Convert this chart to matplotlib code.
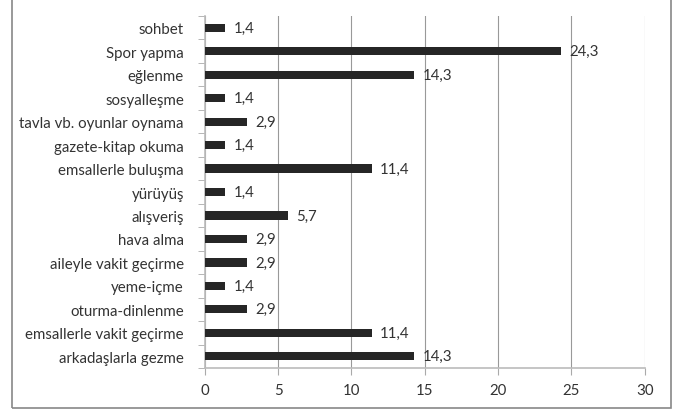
import matplotlib
matplotlib.use("Agg")
import matplotlib.pyplot as plt
from matplotlib.patches import Rectangle
import numpy as np

categories = ["arkadaşlarla gezme", "emsallerle vakit geçirme", "oturma-dinlenme",
              "yeme-içme", "aileyle vakit geçirme", "hava alma", "alışveriş",
              "yürüyüş", "emsallerle buluşma", "gazete-kitap okuma",
              "tavla vb. oyunlar oynama", "sosyalleşme", "eğlenme", "Spor yapma", "sohbet"]
values = [14.3, 11.4, 2.9, 1.4, 2.9, 2.9, 5.7, 1.4, 11.4, 1.4, 2.9, 1.4, 14.3, 24.3, 1.4]
xticks = [0, 5, 10, 15, 20, 25, 30]

plt.rcParams['font.family'] = ['Lato', 'DejaVu Sans']
fig = plt.figure(figsize=(6.78, 4.10), dpi=100)
ax = fig.add_axes([0.302, 0.1, 0.649, 0.8585])

fs = 10.8
y = np.arange(len(categories))
ax.barh(y, values, height=0.35, color="#262626", zorder=3)
for yi, v in zip(y, values):
    ax.text(v + 0.55, yi, f"{v:.1f}".replace(".", ","), va="center", ha="left",
            fontsize=fs, color="#333333", zorder=4)

ax.set_xlim(0, 30)
ax.set_ylim(-0.5, len(categories) - 0.5)
ax.set_xticks(xticks)
ax.set_xticklabels([str(t) for t in xticks], fontsize=fs, color="#333333")
ax.set_yticks(y)
ax.set_yticklabels(categories, fontsize=fs, color="#333333")
ax.set_yticks(np.arange(len(categories) + 1) - 0.5, minor=True)
ax.tick_params(axis="y", which="major", length=0, pad=15)
ax.tick_params(axis="y", which="minor", length=5, color="#aaaaaa", direction="out")
ax.tick_params(axis="x", length=5, color="#aaaaaa", direction="out", pad=6)
ax.grid(axis="x", color="#999999", linewidth=0.8, zorder=0)
for s in ["top", "right"]:
    ax.spines[s].set_visible(False)
for s in ["left", "bottom"]:
    ax.spines[s].set_color("#bbbbbb")
    ax.spines[s].set_linewidth(1.2)

fig.patches.append(Rectangle((0.018, 0.003), 0.972, 1.2, transform=fig.transFigure,
                             fill=False, edgecolor="#888888", linewidth=1.2))
fig.savefig("out.png", dpi=100)
